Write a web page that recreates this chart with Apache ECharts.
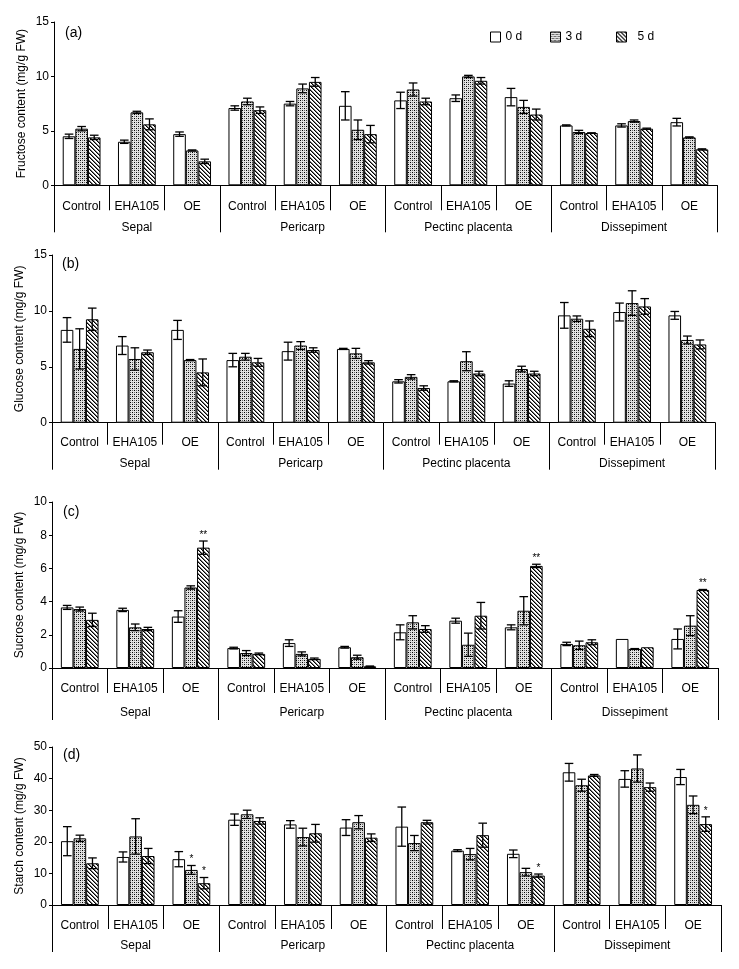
<!DOCTYPE html>
<html><head><meta charset="utf-8">
<script src="https://cdn.jsdelivr.net/npm/echarts@6/dist/echarts.min.js"></script>
<style>html,body{margin:0;padding:0;background:#fff}#c{width:739px;height:969px}</style>
</head><body><div id="c"></div>
<script>
const tissues = ['Sepal', 'Pericarp', 'Pectinc placenta', 'Dissepiment'];
const treatments = ['Control', 'EHA105', 'OE'];
const days = ['0 d', '3 d', '5 d'];

// (a) Fructose
const fru0  = [4.5, 4.0, 4.7, 7.1, 7.5, 7.3, 7.8, 8.0, 8.1, 5.5, 5.5, 5.8];
const fru0e = [0.2, 0.15, 0.2, 0.2, 0.2, 1.3, 0.75, 0.3, 0.8, 0.05, 0.15, 0.35];
const fru3  = [5.2, 6.7, 3.2, 7.7, 8.9, 5.1, 8.8, 10.0, 7.2, 4.9, 5.9, 4.4];
const fru3e = [0.2, 0.1, 0.05, 0.3, 0.4, 0.9, 0.6, 0.1, 0.6, 0.15, 0.1, 0.05];
const fru5  = [4.4, 5.6, 2.2, 6.9, 9.5, 4.7, 7.7, 9.6, 6.5, 4.8, 5.2, 3.3];
const fru5e = [0.2, 0.5, 0.2, 0.3, 0.4, 0.8, 0.3, 0.3, 0.5, 0.02, 0.05, 0.05];

// (b) Glucose
const glu0  = [8.3, 6.9, 8.3, 5.6, 6.4, 6.6, 3.7, 3.7, 3.5, 9.6, 9.9, 9.6];
const glu0e = [1.1, 0.8, 0.85, 0.6, 0.8, 0.05, 0.15, 0.05, 0.25, 1.15, 0.8, 0.35];
const glu3  = [6.6, 5.7, 5.6, 5.9, 6.9, 6.2, 4.1, 5.5, 4.8, 9.3, 10.7, 7.4];
const glu3e = [1.8, 1.0, 0.05, 0.3, 0.35, 0.45, 0.2, 0.85, 0.25, 0.25, 1.1, 0.35];
const glu5  = [9.25, 6.3, 4.5, 5.4, 6.5, 5.4, 3.1, 4.4, 4.4, 8.4, 10.4, 7.0];
const glu5e = [1.0, 0.2, 1.2, 0.35, 0.2, 0.15, 0.2, 0.2, 0.2, 0.7, 0.7, 0.4];

// (c) Sucrose
const suc0  = [3.65, 3.5, 3.1, 1.2, 1.5, 1.25, 2.15, 2.85, 2.45, 1.45, 1.75, 1.75];
const suc0e = [0.12, 0.1, 0.35, 0.05, 0.2, 0.05, 0.45, 0.15, 0.15, 0.1, 0, 0.6];
const suc3  = [3.55, 2.45, 4.85, 0.9, 0.85, 0.65, 2.75, 1.4, 3.45, 1.37, 1.15, 2.55];
const suc3e = [0.12, 0.2, 0.1, 0.15, 0.12, 0.12, 0.4, 0.7, 0.85, 0.25, 0.02, 0.6];
const suc5  = [2.9, 2.35, 7.25, 0.85, 0.55, 0.1, 2.35, 3.15, 6.15, 1.55, 1.25, 4.7];
const suc5e = [0.4, 0.1, 0.4, 0.05, 0.05, 0.02, 0.2, 0.8, 0.1, 0.15, 0, 0.03];
const suc5sig = ['', '', '**', '', '', '', '', '', '**', '', '', '**'];

// (d) Starch
const sta0  = [20.2, 15.2, 14.5, 27.0, 25.5, 24.5, 24.8, 17.2, 16.2, 42.0, 39.9, 40.5];
const sta0e = [4.6, 1.6, 2.4, 1.8, 1.2, 2.5, 6.2, 0.3, 1.2, 2.8, 2.6, 2.4];
const sta3  = [21.1, 21.7, 11.1, 28.7, 21.5, 26.2, 19.6, 16.1, 10.4, 37.9, 43.2, 31.7];
const sta3e = [1.0, 5.6, 1.4, 1.3, 2.8, 2.1, 2.4, 1.8, 1.2, 1.9, 4.3, 2.8];
const sta5  = [13.2, 15.5, 6.9, 26.6, 22.7, 21.3, 26.2, 22.1, 9.3, 41.0, 37.3, 25.6];
const sta5e = [1.7, 2.4, 1.8, 1.0, 2.8, 1.2, 0.6, 3.8, 0.5, 0.3, 1.3, 2.3];
const sta3sig = ['', '', '*', '', '', '', '', '', '', '', '', ''];
const sta5sig = ['', '', '*', '', '', '', '', '', '*', '', '', '*'];

const noSig = ['', '', '', '', '', '', '', '', '', '', '', ''];
const FONT = 'Liberation Sans, Arial, Helvetica, sans-serif';
const treatmentLabels = tissues.flatMap(() => treatments);

function makeDots() {
  const c = document.createElement('canvas'); c.width = 4; c.height = 4;
  const ctx = c.getContext('2d');
  ctx.fillStyle = '#e2e2e2'; ctx.fillRect(0, 0, 4, 4);
  ctx.fillStyle = '#000'; [[0,0],[2,2]].forEach(p => ctx.fillRect(p[0], p[1], 1, 1));
  ctx.fillStyle = '#6a6a6a'; [[2,0],[0,2]].forEach(p => ctx.fillRect(p[0], p[1], 1, 1));
  return c;
}
function makeHatch() {
  const n = 4;
  const c = document.createElement('canvas'); c.width = n; c.height = n;
  const ctx = c.getContext('2d');
  const img = ctx.createImageData(n, n);
  for (let y = 0; y < n; y++) for (let x = 0; x < n; x++) {
    const d = ((x - y) % n + n) % n;
    const v = d === 0 ? 0 : (d === 1 ? 120 : 255);
    const k = (y * n + x) * 4;
    img.data[k] = img.data[k+1] = img.data[k+2] = v; img.data[k+3] = 255;
  }
  ctx.putImageData(img, 0, 0);
  return c;
}
const fills = ['#ffffff', { image: makeDots(), repeat: 'repeat' }, { image: makeHatch(), repeat: 'repeat' }];

const panels = [
  { label: '(a)', lx: 65, ly: 26, top: 22, height: 163.3, left: 54, right: 22, max: 15, interval: 5,
    name: 'Fructose content (mg/g FW)', vals: [fru0, fru3, fru5], errs: [fru0e, fru3e, fru5e], sigs: [noSig, noSig, noSig],
    t1: 25, t2: 47, m1: 15, m2: 36 },
  { label: '(b)', lx: 62, ly: 257, top: 255, height: 167.7, left: 52, right: 24, max: 15, interval: 5,
    name: 'Glucose content (mg/g FW)', vals: [glu0, glu3, glu5], errs: [glu0e, glu3e, glu5e], sigs: [noSig, noSig, noSig],
    t1: 22, t2: 47, m1: 14, m2: 35 },
  { label: '(c)', lx: 63, ly: 505, top: 502, height: 166, left: 52, right: 21, max: 10, interval: 2,
    name: 'Sucrose content (mg/g FW)', vals: [suc0, suc3, suc5], errs: [suc0e, suc3e, suc5e], sigs: [noSig, noSig, suc5sig],
    t1: 25, t2: 52, m1: 15, m2: 39 },
  { label: '(d)', lx: 63, ly: 748, top: 747, height: 158, left: 52, right: 18, max: 50, interval: 10,
    name: 'Starch content (mg/g FW)', vals: [sta0, sta3, sta5], errs: [sta0e, sta3e, sta5e], sigs: [noSig, sta3sig, sta5sig],
    t1: 24, t2: 47, m1: 15, m2: 35 }
];

const BW = 12.6;
const grid = [], xAxis = [], yAxis = [], series = [], title = [];
panels.forEach((p, i) => {
  grid.push({ left: p.left, right: p.right, top: p.top, height: p.height, containLabel: false, outerBoundsMode: 'none' });
  title.push({ text: p.label, left: p.lx, top: p.ly, padding: 0,
    textStyle: { fontSize: 14, fontWeight: 'normal', color: '#000', fontFamily: FONT } });
  xAxis.push({ gridIndex: i, type: 'category', data: treatmentLabels, position: 'bottom',
    axisLine: { show: true, lineStyle: { color: '#000', width: 1 } },
    axisTick: { show: true, length: p.t1, interval: 0, lineStyle: { color: '#000', width: 1 } },
    axisLabel: { interval: 0, margin: p.m1, color: '#000', fontSize: 12, fontFamily: FONT },
    splitLine: { show: false } });
  xAxis.push({ gridIndex: i, type: 'category', data: tissues, position: 'bottom',
    axisLine: { show: false },
    axisTick: { show: true, length: p.t2, interval: 0, lineStyle: { color: '#000', width: 1 } },
    axisLabel: { interval: 0, margin: p.m2, color: '#000', fontSize: 12, fontFamily: FONT },
    splitLine: { show: false } });
  yAxis.push({ gridIndex: i, type: 'value', min: 0, max: p.max, interval: p.interval,
    name: p.name, nameLocation: 'middle', nameGap: 26, nameMoveOverlap: false,
    nameTextStyle: { fontSize: 12, color: '#000', fontFamily: FONT },
    axisLine: { show: true, lineStyle: { color: '#000', width: 1 } },
    axisTick: { show: true, length: 3, lineStyle: { color: '#000' } },
    axisLabel: { margin: 5, color: '#000', fontSize: 12, fontFamily: FONT },
    splitLine: { show: false } });
  for (let d = 0; d < 3; d++) {
    series.push({ type: 'bar', name: days[d], xAxisIndex: 2 * i, yAxisIndex: i,
      barWidth: BW, barGap: '0%', data: p.vals[d],
      itemStyle: { color: fills[d], borderColor: '#000', borderWidth: 1 },
      emphasis: { disabled: true }, animation: false });
  }
  for (let d = 0; d < 3; d++) {
    const sig = p.sigs[d];
    const off = (d - 1) * BW;
    series.push({ type: 'custom', xAxisIndex: 2 * i, yAxisIndex: i, z: 10, animation: false, silent: true,
      data: p.vals[d].map((v, k) => [k, v, p.errs[d][k]]),
      renderItem: function (params, api) {
        const k = api.value(0), v = api.value(1), e = api.value(2);
        const top = api.coord([k, v + e]);
        const bot = api.coord([k, v - e]);
        const x = top[0] + off;
        const st = { stroke: '#000', lineWidth: 1.3 };
        const ch = [];
        if (e > 0) {
          ch.push({ type: 'line', shape: { x1: x, y1: top[1], x2: x, y2: bot[1] }, style: st });
          ch.push({ type: 'line', shape: { x1: x - 4.3, y1: top[1], x2: x + 4.3, y2: top[1] }, style: st });
          ch.push({ type: 'line', shape: { x1: x - 4.3, y1: bot[1], x2: x + 4.3, y2: bot[1] }, style: st });
        }
        const s = sig[params.dataIndex];
        if (s) {
          ch.push({ type: 'text', x: x, y: top[1] - 1,
            style: { text: s, align: 'center', verticalAlign: 'bottom', fontSize: 10, fill: '#000', fontFamily: FONT } });
        }
        return { type: 'group', children: ch };
      } });
  }
});

const legendBase = { orient: 'horizontal', icon: 'rect', itemWidth: 10, itemHeight: 10, padding: 0,
  itemStyle: { borderColor: '#000', borderWidth: 1 },
  textStyle: { fontSize: 12, color: '#000', fontFamily: FONT }, selectedMode: false };
const legend = [
  Object.assign({}, legendBase, { data: ['0 d'], left: 490, top: 31 }),
  Object.assign({}, legendBase, { data: ['3 d'], left: 550, top: 31 }),
  Object.assign({}, legendBase, { data: ['5 d'], left: 616, top: 31,
    textStyle: { fontSize: 12, color: '#000', fontFamily: FONT, padding: [0, 0, 0, 6] } })
];

const chart = echarts.init(document.getElementById('c'), null, { renderer: 'canvas' });
chart.setOption({ animation: false, backgroundColor: '#fff', title, grid, xAxis, yAxis, series, legend });
</script>
</body></html>
